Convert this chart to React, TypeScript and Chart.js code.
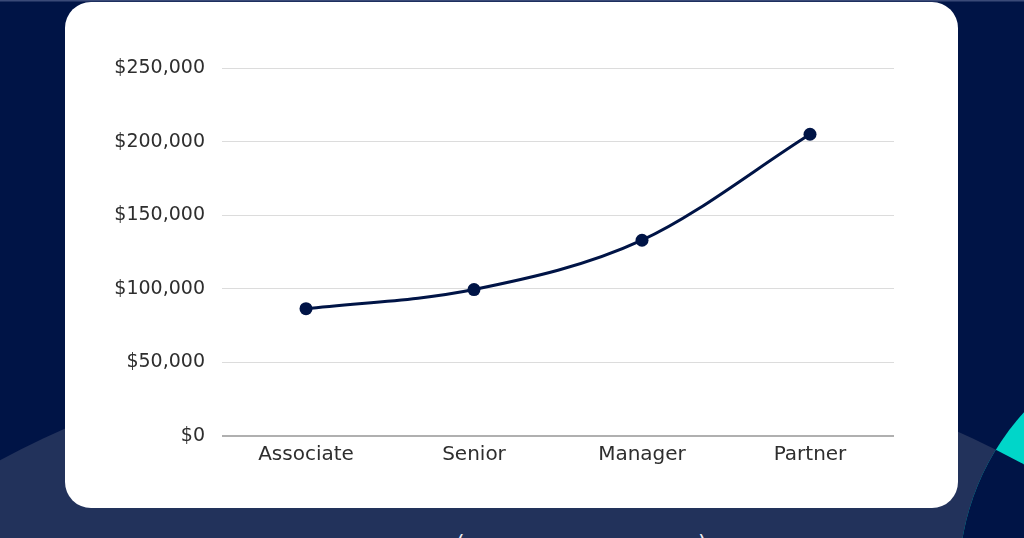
import React, { useEffect, useRef } from "react";
import { Chart, registerables } from "chart.js";

Chart.register(...registerables);

const categories: string[] = ["Associate", "Senior", "Manager", "Partner"];
const salaries: number[] = [86500, 99500, 133000, 205000];
const yTicks: number[] = [0, 50000, 100000, 150000, 200000, 250000];

const NAVY = "#001446";
const LIGHT_NAVY = "#22325b";
const TEAL = "#00d6c9";
const FONT = "'DejaVu Sans', sans-serif";

function formatMoney(v: number): string {
  return "$" + Number(v).toLocaleString("en-US");
}

function SalaryChart() {
  const ref = useRef<HTMLCanvasElement | null>(null);
  useEffect(() => {
    if (!ref.current) return;
    const chart = new Chart(ref.current, {
      type: "line",
      data: {
        labels: categories,
        datasets: [
          {
            data: salaries,
            borderColor: NAVY,
            backgroundColor: NAVY,
            borderWidth: 3,
            pointRadius: 6.5,
            pointHoverRadius: 6.5,
            pointBackgroundColor: NAVY,
            pointBorderWidth: 0,
            cubicInterpolationMode: "monotone",
            fill: false,
          },
        ],
      },
      options: {
        animation: false,
        responsive: false,
        maintainAspectRatio: false,
        devicePixelRatio: 1,
        layout: { padding: { left: 0, right: 64, top: 66, bottom: 35 } },
        plugins: { legend: { display: false }, tooltip: { enabled: false } },
        scales: {
          x: {
            offset: true,
            grid: { display: false, drawTicks: false },
            border: { display: false },
            afterFit: (scale: any) => {
              scale.height = 37;
            },
            ticks: {
              padding: 7,
              color: "#2e2e2e",
              font: { family: FONT, size: 20 },
            },
          },
          y: {
            min: 0,
            max: 250000,
            afterFit: (scale: any) => {
              scale.width = 157;
            },
            afterBuildTicks: (scale: any) => {
              scale.ticks = yTicks.map((v) => ({ value: v }));
            },
            grid: {
              drawTicks: false,
              color: (ctx: any) => (ctx.tick && ctx.tick.value === 0 ? "#b0b0b0" : "#dcdcdc"),
              lineWidth: (ctx: any) => (ctx.tick && ctx.tick.value === 0 ? 2 : 1),
            },
            border: { display: false },
            ticks: {
              padding: 17,
              color: "#2e2e2e",
              font: { family: FONT, size: 19 },
              callback: (v: any) => formatMoney(Number(v)),
            },
          },
        },
      },
    });
    return () => chart.destroy();
  }, []);
  return <canvas ref={ref} width={893} height={506} style={{ display: "block", width: 893, height: 506 }} />;
}

export default function App() {
  return (
    <div
      style={{
        position: "fixed",
        left: 0,
        top: 0,
        width: 1024,
        height: 538,
        overflow: "hidden",
        background: NAVY,
      }}
    >
      <svg width={1024} height={538} style={{ position: "absolute", left: 0, top: 0 }}>
        <defs>
          <clipPath id="rightCircle">
            <circle cx={1208} cy={580} r={249} />
          </clipPath>
        </defs>
        <circle cx={508} cy={1420} r={1086} fill={LIGHT_NAVY} />
        <g clipPath="url(#rightCircle)">
          <rect x={900} y={300} width={200} height={260} fill={TEAL} />
          <circle cx={508} cy={1420} r={1086} fill={NAVY} />
        </g>
        <rect x={0} y={0} width={1024} height={1.5} fill="#3a4a78" />
      </svg>
      <div
        style={{
          position: "absolute",
          left: 65,
          top: 2,
          width: 893,
          height: 506,
          background: "#ffffff",
          borderRadius: 26,
          overflow: "hidden",
        }}
      >
        <SalaryChart />
      </div>
      <div
        style={{
          position: "absolute",
          left: 456,
          top: 530,
          color: "#e8ecf4",
          fontFamily: FONT,
          fontSize: 22,
          lineHeight: "26px",
        }}
      >
        (
      </div>
      <div
        style={{
          position: "absolute",
          left: 698,
          top: 530,
          color: "#e8ecf4",
          fontFamily: FONT,
          fontSize: 22,
          lineHeight: "26px",
        }}
      >
        )
      </div>
    </div>
  );
}
